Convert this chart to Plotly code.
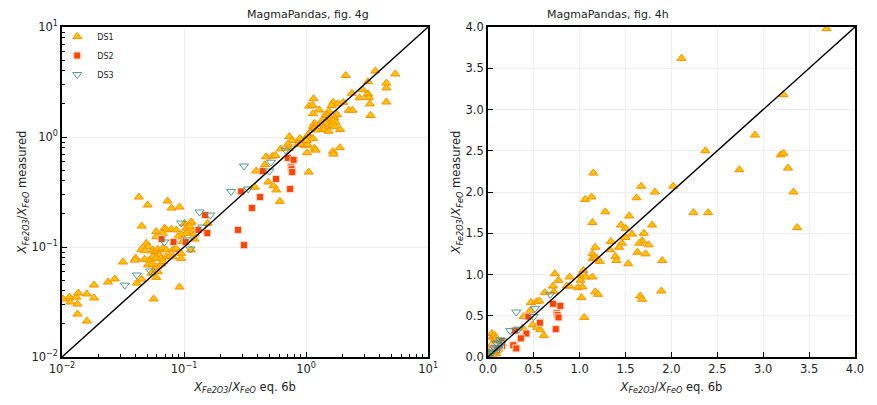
import plotly.graph_objects as go

# ---------------- data (x = eq. 6b, y = measured) ----------------
ds1_x = [3.69, 2.11, 3.22, 2.37, 2.91, 3.19, 3.22, 2.74, 3.27, 2.02, 1.67, 1.82, 3.33, 2.24, 2.40, 3.37,
         5.38, 4.55, 4.55, 4.55,
         1.15, 1.06, 1.13, 1.62, 1.28, 1.54, 1.14, 1.45, 1.50, 1.79, 1.70, 1.57, 1.50, 1.34, 1.68, 1.65,
         1.46, 1.75, 1.17, 1.43, 1.33, 1.63, 1.72, 1.14, 1.39, 1.14, 1.17, 1.19, 1.22, 1.40, 1.53, 1.90,
         1.04, 1.01, 1.07, 1.14, 0.89, 1.89, 1.66, 1.68, 1.17, 1.20, 1.02, 1.05, 0.98, 1.03, 1.01, 0.86,
         0.89, 0.73, 0.77, 0.71, 0.62, 0.72, 0.47, 0.53, 0.56, 0.46, 0.39, 0.49, 0.54, 0.57, 0.61, 0.38,
         0.0102, 0.0115, 0.0117, 0.0131, 0.0136, 0.0134, 0.016, 0.0183, 0.0183, 0.0134, 0.016, 0.0238,
         0.0271, 0.0316, 0.0402, 0.0395, 0.041, 0.045, 0.045, 0.0426, 0.0503, 0.0733, 0.0789, 0.0918,
         0.0918, 0.0563,
         0.0592, 0.0692, 0.0715, 0.0785, 0.0863, 0.0592, 0.067, 0.101, 0.114, 0.104, 0.118, 0.104,
         0.0947, 0.0889, 0.122, 0.0976, 0.0491, 0.0506, 0.0447, 0.0476, 0.0556, 0.0574, 0.0611, 0.067,
         0.0715, 0.0809, 0.0863, 0.0947, 0.114, 0.063, 0.0476, 0.0523, 0.0556, 0.0592, 0.065, 0.0715,
         0.076, 0.0809, 0.0947, 0.0506, 0.0556, 0.0592, 0.065, 0.0574, 0.0611, 0.054, 0.067, 0.0592,
         0.156, 0.115, 0.111, 0.122]
ds1_y = [3.98, 3.62, 3.18, 2.50, 2.69, 2.45, 2.47, 2.27, 2.29, 2.07, 2.07, 2.00, 2.00, 1.75, 1.75, 1.57,
         3.74, 3.09, 2.79, 2.08,
         2.23, 1.91, 1.94, 1.93, 1.76, 1.71, 1.63, 1.60, 1.56, 1.60, 1.50, 1.49, 1.45, 1.40, 1.41, 1.38,
         1.38, 1.36, 1.33, 1.33, 1.30, 1.27, 1.25, 1.25, 1.22, 1.19, 1.21, 1.19, 1.16, 1.17, 1.13, 1.17,
         1.05, 0.99, 0.97, 0.97, 0.97, 0.80, 0.74, 0.70, 0.79, 0.76, 0.72, 0.48, 0.84, 0.85, 0.93, 0.86,
         0.86, 1.01, 0.93, 0.86, 0.78, 0.79, 0.66, 0.67, 0.68, 0.56, 0.49, 0.39, 0.36, 0.33, 0.26, 0.35,
         0.0337, 0.0351, 0.0316, 0.035, 0.0382, 0.0303, 0.0374, 0.0344, 0.0451, 0.0246, 0.0212, 0.048,
         0.0512, 0.073, 0.0794, 0.076, 0.047, 0.051, 0.155, 0.285, 0.241, 0.262, 0.226, 0.231,
         0.0433, 0.0337,
         0.138, 0.148, 0.143, 0.145, 0.143, 0.124, 0.133, 0.164, 0.168, 0.148, 0.138, 0.133,
         0.129, 0.124, 0.118, 0.112, 0.108, 0.101, 0.0953, 0.0925, 0.094, 0.0908, 0.0953, 0.0973,
         0.094, 0.094, 0.0973, 0.0877, 0.094, 0.0846, 0.0773, 0.0762, 0.0816, 0.0789, 0.0789, 0.0816,
         0.0816, 0.0816, 0.0789, 0.0686, 0.07, 0.0662, 0.07, 0.0618, 0.0597, 0.0577, 0.0736, 0.053,
         0.164, 0.169, 0.155, 0.131]

ds2_x = [0.71, 0.79, 0.75, 0.76, 0.77, 0.44, 0.567, 0.74, 0.42, 0.294, 0.36, 0.277, 0.31,
         0.149, 0.155, 0.131, 0.0654, 0.082, 0.103]
ds2_y = [0.645, 0.62, 0.53, 0.51, 0.48, 0.49, 0.415, 0.337, 0.285, 0.32, 0.226, 0.143, 0.104,
         0.195, 0.134, 0.143, 0.118, 0.111, 0.111]

ds3_x = [0.31, 0.515, 0.50, 0.68, 0.335, 0.243, 0.134, 0.164, 0.095, 0.141, 0.107, 0.113, 0.069,
         0.053, 0.041, 0.0327]
ds3_y = [0.545, 0.59, 0.49, 0.76, 0.337, 0.32, 0.208, 0.195, 0.165, 0.152, 0.116, 0.096, 0.111,
         0.0605, 0.0556, 0.045]

titles = ["MagmaPandas, fig. 4g", "MagmaPandas, fig. 4h"]
log_ticks = [0.01, 0.1, 1, 10]
log_ticktext = ["10<sup>−2</sup>", "10<sup>−1</sup>", "10<sup>0</sup>", "10<sup>1</sup>"]
lin_ticks = [0.0, 0.5, 1.0, 1.5, 2.0, 2.5, 3.0, 3.5, 4.0]
identity_log = [0.01, 10]
identity_lin = [0, 4]

# ---------------- styles ----------------
FONT = "DejaVu Sans"
ds1_marker = dict(symbol="triangle-up", size=8, color="#FFC400", line=dict(color="#FF8C00", width=1))
ds2_marker = dict(symbol="square", size=7, color="#FF4500", line=dict(color="#FFD8CC", width=1))
ds3_marker = dict(symbol="triangle-down-open", size=8, color="#4E9A90", line=dict(width=1))

fig = go.Figure()
for i, (xa, ya) in enumerate([("x", "y"), ("x2", "y2")]):
    show = i == 0
    fig.add_trace(go.Scatter(x=ds1_x, y=ds1_y, mode="markers", name="DS1", marker=ds1_marker,
                             xaxis=xa, yaxis=ya, showlegend=show, cliponaxis=True))
    fig.add_trace(go.Scatter(x=ds2_x, y=ds2_y, mode="markers", name="DS2", marker=ds2_marker,
                             xaxis=xa, yaxis=ya, showlegend=show, cliponaxis=True))
    fig.add_trace(go.Scatter(x=ds3_x, y=ds3_y, mode="markers", name="DS3", marker=ds3_marker,
                             xaxis=xa, yaxis=ya, showlegend=show, cliponaxis=True))
    ident = identity_log if i == 0 else identity_lin
    fig.add_trace(go.Scatter(x=ident, y=ident, mode="lines", line=dict(color="black", width=1.4),
                             xaxis=xa, yaxis=ya, showlegend=False, hoverinfo="skip"))

xlab = "<i>X<sub>Fe2O3</sub></i>/<i>X<sub>FeO</sub></i> eq. 6b"
ylab = "<i>X<sub>Fe2O3</sub></i>/<i>X<sub>FeO</sub></i> measured"

common = dict(showline=True, linecolor="black", linewidth=1.5, mirror=True,
              ticks="inside", ticklen=5, tickcolor="black", tickwidth=1,
              showgrid=True, gridcolor="#EEEEEE", gridwidth=1, zeroline=False,
              tickfont=dict(family=FONT, size=11.5, color="#222"),
              title_font=dict(family=FONT, size=11.5, color="#222"))
log_axis = dict(type="log", tickmode="array", tickvals=log_ticks, ticktext=log_ticktext,
                minor=dict(ticks="inside", ticklen=3, tickcolor="black", dtick="D1", showgrid=False),
                range=[-2, 1], **common)
lin_axis = dict(type="linear", tickmode="array", tickvals=lin_ticks,
                ticktext=[f"{v:.1f}" for v in lin_ticks], range=[0, 4], **common)

fig.update_layout(
    width=877, height=405,
    margin=dict(l=62, r=18, t=27, b=48),
    paper_bgcolor="white", plot_bgcolor="white",
    font=dict(family=FONT, size=11, color="#222"),
    xaxis=dict(domain=[0, 0.4617], anchor="y", title=dict(text=xlab, standoff=8), **log_axis),
    yaxis=dict(domain=[0, 1], anchor="x", title=dict(text=ylab, standoff=2), **log_axis),
    xaxis2=dict(domain=[0.5370, 1.0], anchor="y2", title=dict(text=xlab, standoff=8), **lin_axis),
    yaxis2=dict(domain=[0, 1], anchor="x2", title=dict(text=ylab, standoff=2), **lin_axis),
    legend=dict(x=-0.006, y=1.015, xanchor="left", yanchor="top", bgcolor="rgba(0,0,0,0)",
                font=dict(family=FONT, size=8, color="#222"), itemwidth=30, tracegroupgap=0),
    showlegend=True,
    annotations=[
        dict(text=titles[0], x=0.4617 / 2, y=1, xref="paper", yref="paper", yshift=4,
             showarrow=False, yanchor="bottom", font=dict(family=FONT, size=11, color="#222")),
        dict(text=titles[1], x=(0.537 + 1.0) / 2, y=1, xref="paper", yref="paper", yshift=4,
             showarrow=False, yanchor="bottom", font=dict(family=FONT, size=11, color="#222")),
    ],
)

fig.write_html("out.html")
